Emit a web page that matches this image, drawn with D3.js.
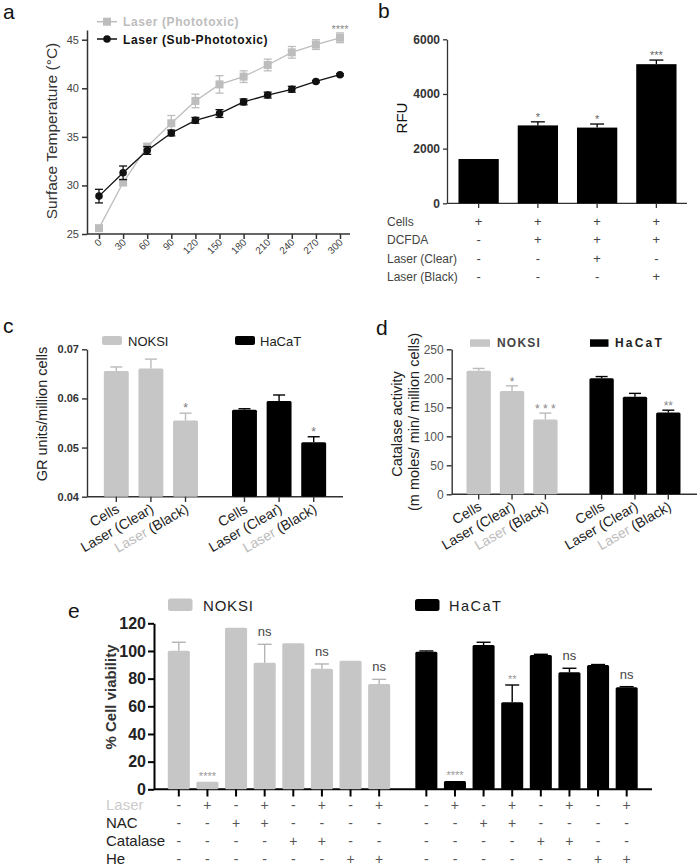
<!DOCTYPE html>
<html><head><meta charset="utf-8">
<script src="https://cdn.jsdelivr.net/npm/d3@7"></script>
<style>body{margin:0;background:#fff} svg{display:block} text{font-family:Arial,"Liberation Sans",sans-serif}</style>
</head><body><svg id="chart" width="700" height="867"></svg>
<script>
// ---------- Panel a data ----------
const timeLabels = ["0","30","60","90","120","150","180","210","240","270","300"];
const photoMean = [25.6,30.3,34.0,36.4,38.7,40.4,41.2,42.4,43.7,44.5,45.2];
const photoErr  = [0.2,0.3,0.3,0.8,0.7,0.9,0.6,0.6,0.6,0.5,0.5];
const subMean   = [28.9,31.3,33.6,35.4,36.7,37.4,38.6,39.3,39.9,40.7,41.4];
const subErr    = [0.7,0.7,0.4,0.3,0.3,0.4,0.3,0.3,0.3,0.1,0.1];
const aTicks = [25,30,35,40,45];
const aSeries = ["Laser (Phototoxic)","Laser (Sub-Phototoxic)"];

// ---------- Panel b data ----------
const rfuVals  = [1620,2850,2770,5090];
const rfuErr   = [0,130,130,150];
const rfuStars = ["","*","*","***"];
const bTicks = [0,2000,4000,6000];
const rfuRows  = ["Cells","DCFDA","Laser (Clear)","Laser (Black)"];
const rfuTable = [["+","+","+","+"],["-","+","+","+"],["-","-","+","-"],["-","-","-","+"]];

// ---------- Panels c & d data ----------
const cellGroups = ["NOKSI","HaCaT"];
const treatments = ["Cells","Laser (Clear)","Laser (Black)"];
const grNoksi = [0.0656,0.0661,0.0555];
const grNoksiErr = [0.0008,0.0019,0.0015];
const grHacat = [0.0577,0.0595,0.0511];
const grHacatErr = [0.0002,0.0012,0.0011];
const grNoksiStars = ["","","*"];
const grHacatStars = ["","","*"];
const cTicks = [0.04,0.05,0.06,0.07];

const catNoksi = [213,178,129];
const catNoksiErr = [4,9,11];
const catHacat = [200,168,141];
const catHacatErr = [3,6,4];
const catNoksiStars = ["","*","* * *"];
const catHacatStars = ["","","**"];
const dTicks = [0,50,100,150,200,250];

// ---------- Panel e data ----------
const eConds = ["1","2","3","4","5","6","7","8"];
const eNoksi = [100.2,5.5,116.8,91.5,105.5,87.2,93.0,76.1];
const eNoksiErr = [6.1,0,0,13.3,0,3.4,0,3.4];
const eHacat = [99.5,6.0,104.3,62.9,97.1,84.6,89.9,73.7];
const eHacatErr = [0.5,0,2.0,12.5,0.5,2.9,0.3,0.5];
const eNoksiStars = ["","****","","ns","","ns","","ns"];
const eHacatStars = ["","****","","**","","ns","","ns"];
const eTicks = [0,20,40,60,80,100,120];
const eRows = ["Laser","NAC","Catalase","He"];
const eTable = [
  ["-","+","-","+","-","+","-","+"],
  ["-","-","+","+","-","-","-","-"],
  ["-","-","-","-","+","+","-","-"],
  ["-","-","-","-","-","-","+","+"]];

const svg = d3.select("#chart");
const GRAY = "#c6c6c6", EGRAY = "#b4b4b4", LGRAY = "#bdbdbd";

function styleAxis(g, font, size, weight, fill, stroke, sw){
  g.attr("font-family",font).attr("font-size",size);
  g.selectAll("text").attr("fill",fill).attr("font-weight",weight);
  g.selectAll("path,line").attr("stroke",stroke).attr("stroke-width",sw);
}
function panelLabel(t,x,y){
  svg.append("text").attr("x",x).attr("y",y).attr("font-size",21).attr("fill","#111").text(t);
}

// =================== PANEL A ===================
panelLabel("a",3,19);
const xA = d3.scalePoint().domain(timeLabels).range([99,340]);
const yA = d3.scaleLinear().domain([25,46]).range([234,30]);
const gA = svg.append("g");
const axAy = gA.append("g").attr("transform","translate(87,0)")
  .call(d3.axisLeft(yA).tickValues(aTicks).tickSize(5).tickSizeOuter(0).tickPadding(3));
styleAxis(axAy,"Arial",11,"normal","#444","#333",1.5);
const axAx = gA.append("g").attr("transform","translate(0,234)")
  .call(d3.axisBottom(xA).tickSize(5).tickSizeOuter(0));
axAx.select(".domain").remove();
styleAxis(axAx,"Arial",10,"normal","#444","#333",1.5);
axAx.selectAll("text").attr("x",0).attr("y",0).attr("dy",0)
  .attr("text-anchor","end").attr("transform","translate(3,9) rotate(-45)");
gA.append("line").attr("x1",87).attr("x2",350).attr("y1",234).attr("y2",234)
  .attr("stroke","#333").attr("stroke-width",1.5);
svg.append("text").attr("transform","translate(57,131) rotate(-90)")
  .attr("text-anchor","middle").attr("font-size",15.5).attr("fill","#333")
  .text("Surface Temperature (°C)");

function drawSeries(means, errs, color, marker){
  const line = d3.line().x((d,i)=>xA(timeLabels[i])).y(d=>yA(d));
  gA.append("path").datum(means).attr("d",line).attr("fill","none")
    .attr("stroke",color).attr("stroke-width",1.3);
  means.forEach((m,i)=>{
    const x = xA(timeLabels[i]);
    const e = errs[i];
    const eg = gA.append("g").attr("stroke",color).attr("stroke-width",1.3);
    eg.append("line").attr("x1",x).attr("x2",x).attr("y1",yA(m-e)).attr("y2",yA(m+e));
    eg.append("line").attr("x1",x-4).attr("x2",x+4).attr("y1",yA(m-e)).attr("y2",yA(m-e));
    eg.append("line").attr("x1",x-4).attr("x2",x+4).attr("y1",yA(m+e)).attr("y2",yA(m+e));
    if(marker==="square"){
      gA.append("rect").attr("x",x-4).attr("y",yA(m)-4).attr("width",8).attr("height",8).attr("fill",color);
    } else {
      gA.append("path").attr("d",d3.symbol().type(d3.symbolCircle).size(45)())
        .attr("transform",`translate(${x},${yA(m)})`).attr("fill",color);
    }
  });
}
drawSeries(photoMean,photoErr,LGRAY,"square");
drawSeries(subMean,subErr,"#111","circle");
gA.append("text").attr("x",xA("300")).attr("y",33).attr("text-anchor","middle")
  .attr("font-size",11).attr("fill","#888").text("****");
// legend
[[LGRAY,"square",21.7],["#111","circle",39]].forEach((d,i)=>{
  gA.append("line").attr("x1",97).attr("x2",117).attr("y1",d[2]).attr("y2",d[2])
    .attr("stroke",d[0]).attr("stroke-width",1.5);
  if(d[1]==="square") gA.append("rect").attr("x",103).attr("y",d[2]-4).attr("width",8).attr("height",8).attr("fill",d[0]);
  else gA.append("path").attr("d",d3.symbol().type(d3.symbolCircle).size(45)()).attr("transform",`translate(107,${d[2]})`).attr("fill",d[0]);
  gA.append("text").attr("x",123).attr("y",d[2]+4.5).attr("font-size",12).attr("font-weight","bold")
    .attr("letter-spacing",0.6).attr("fill",d[0]).text(aSeries[i]);
});

// =================== PANEL B ===================
panelLabel("b",378,18);
const gB = svg.append("g");
const xB = d3.scaleBand().domain(d3.range(4)).range([449,686]).paddingInner(0.32).paddingOuter(0.16);
const yB = d3.scaleLinear().domain([0,6000]).range([203.3,39.3]);
const axBy = gB.append("g").attr("transform","translate(447,0)")
  .call(d3.axisLeft(yB).tickValues(bTicks).tickFormat(d3.format("d")).tickSize(4).tickSizeOuter(0).tickPadding(3));
styleAxis(axBy,"'Liberation Serif',serif",12,"bold","#333","#333",1.3);
gB.append("line").attr("x1",447).attr("x2",687).attr("y1",203.3).attr("y2",203.3).attr("stroke","#333").attr("stroke-width",1.3);
rfuVals.forEach((v,i)=>{
  const x0 = xB(i), bw = xB.bandwidth(), cx = x0+bw/2;
  gB.append("rect").attr("x",x0).attr("y",yB(v)).attr("width",bw).attr("height",yB(0)-yB(v)).attr("fill","#000");
  if(rfuErr[i]>0){
    gB.append("line").attr("x1",cx).attr("x2",cx).attr("y1",yB(v)).attr("y2",yB(v+rfuErr[i])).attr("stroke","#000").attr("stroke-width",1.3);
    gB.append("line").attr("x1",cx-7).attr("x2",cx+7).attr("y1",yB(v+rfuErr[i])).attr("y2",yB(v+rfuErr[i])).attr("stroke","#000").attr("stroke-width",1.3);
  }
  gB.append("line").attr("x1",cx).attr("x2",cx).attr("y1",203.3).attr("y2",208).attr("stroke","#333").attr("stroke-width",1.3);
  if(rfuStars[i]) gB.append("text").attr("x",cx).attr("y",yB(v+rfuErr[i])-1).attr("text-anchor","middle")
    .attr("font-size",11).attr("fill","#666").text(rfuStars[i]);
  rfuTable.forEach((row,r)=>{
    gB.append("text").attr("x",cx).attr("y",226+r*18.3).attr("text-anchor","middle").attr("font-size",13)
      .attr("fill","#444").text(row[i]);
  });
});
rfuRows.forEach((t,r)=>{
  gB.append("text").attr("x",387).attr("y",226+r*18.3).attr("font-size",12).attr("fill","#444").text(t);
});
svg.append("text").attr("transform","translate(407,118) rotate(-90)").attr("text-anchor","middle")
  .attr("font-size",15).attr("fill","#111").text("RFU");

// =================== grouped helper ===================
function groupedBars(g, xOuter, xInner, y, base, sets, capW){
  sets.forEach((s,gi)=>{
    const gx = xOuter(cellGroups[gi]);
    s.vals.forEach((v,i)=>{
      const x0 = gx + xInner(s.cats[i]), bw = xInner.bandwidth(), cx = x0+bw/2;
      g.append("rect").attr("x",x0).attr("y",y(v)).attr("width",bw).attr("height",y(base)-y(v))
        .attr("fill",s.color).attr("rx",1.5);
      const e = s.errs[i];
      if(e>0){
        g.append("line").attr("x1",cx).attr("x2",cx).attr("y1",y(v)).attr("y2",y(v+e)).attr("stroke",s.ecolor).attr("stroke-width",1.4);
        g.append("line").attr("x1",cx-capW/2).attr("x2",cx+capW/2).attr("y1",y(v+e)).attr("y2",y(v+e)).attr("stroke",s.ecolor).attr("stroke-width",1.4);
      }
      const st = s.stars[i];
      if(st){
        const isNs = st==="ns";
        g.append("text").attr("x",cx).attr("y",y(v+e)+s.starOff(st)).attr("text-anchor","middle")
          .attr("font-family", isNs ? "'Liberation Serif',serif" : "Arial")
          .attr("font-size",isNs?13:s.starSize).attr("fill",isNs?"#444":s.starColor).text(st);
      }
    });
  });
}
function rotatedLabels(g, centers, axisY, size){
  centers.forEach(c=>{
    const t = g.append("text").attr("transform",`translate(${c.x+4},${axisY+15}) rotate(-30)`)
      .attr("text-anchor","end").attr("font-size",size).attr("fill","#222");
    if(c.label==="Laser (Black)"){
      t.append("tspan").attr("fill","#bbb").text("Laser ");
      t.append("tspan").text("(Black)");
    } else t.text(c.label);
  });
}

// =================== PANEL C ===================
panelLabel("c",3,333);
const gC = svg.append("g");
const xCo = d3.scaleBand().domain(cellGroups).range([99,331]).paddingInner(0.19);
const xCi = d3.scaleBand().domain(treatments).range([0,xCo.bandwidth()]).paddingInner(0.28).paddingOuter(0.14);
const yC = d3.scaleLinear().domain([0.04,0.07]).range([496.7,349.3]);
const axCy = gC.append("g").attr("transform","translate(87,0)")
  .call(d3.axisLeft(yC).tickValues(cTicks).tickFormat(d3.format(".2f")).tickSize(5).tickSizeOuter(0).tickPadding(3));
styleAxis(axCy,"'Liberation Serif',serif",11,"bold","#333","#333",1.4);
gC.append("line").attr("x1",87).attr("x2",343).attr("y1",496.7).attr("y2",496.7).attr("stroke","#333").attr("stroke-width",1.4);
groupedBars(gC,xCo,xCi,yC,0.04,[
  {vals:grNoksi,errs:grNoksiErr,stars:grNoksiStars,cats:treatments,color:GRAY,ecolor:"#bbb",starColor:"#777",starSize:12,starOff:()=>-1},
  {vals:grHacat,errs:grHacatErr,stars:grHacatStars,cats:treatments,color:"#000",ecolor:"#000",starColor:"#777",starSize:12,starOff:()=>-1}
],12);
const cCenters = [];
cellGroups.forEach(gn=>treatments.forEach(t=>cCenters.push({x:xCo(gn)+xCi(t)+xCi.bandwidth()/2,label:t})));
cCenters.forEach(c=>gC.append("line").attr("x1",c.x).attr("x2",c.x).attr("y1",496.7).attr("y2",502).attr("stroke","#333").attr("stroke-width",1.4));
rotatedLabels(gC,cCenters,496.7,14);
svg.append("text").attr("transform","translate(47,414) rotate(-90)").attr("text-anchor","middle")
  .attr("font-size",14.5).attr("fill","#222").text("GR units/million cells");
// legend c
gC.append("rect").attr("x",102).attr("y",336).attr("width",20).attr("height",9).attr("rx",2).attr("fill",GRAY);
gC.append("text").attr("x",128).attr("y",345.5).attr("font-size",13).attr("fill","#222").text(cellGroups[0]);
gC.append("rect").attr("x",235).attr("y",336).attr("width",20).attr("height",9).attr("rx",2).attr("fill","#000");
gC.append("text").attr("x",260).attr("y",345.5).attr("font-size",13).attr("fill","#222").text(cellGroups[1]);

// =================== PANEL D ===================
panelLabel("d",376,335);
const gD = svg.append("g");
const xDo = d3.scaleBand().domain(cellGroups).range([462,685]).paddingInner(0.186);
const xDi = d3.scaleBand().domain(treatments).range([0,xDo.bandwidth()]).paddingInner(0.27).paddingOuter(0.135);
const yD = d3.scaleLinear().domain([0,250]).range([494.3,349.3]);
const axDy = gD.append("g").attr("transform","translate(451.7,0)")
  .call(d3.axisLeft(yD).tickValues(dTicks).tickSize(5).tickSizeOuter(0).tickPadding(3));
styleAxis(axDy,"Arial",12,"normal","#555","#333",1.4);
gD.append("line").attr("x1",451.7).attr("x2",697).attr("y1",494.3).attr("y2",494.3).attr("stroke","#333").attr("stroke-width",1.4);
groupedBars(gD,xDo,xDi,yD,0,[
  {vals:catNoksi,errs:catNoksiErr,stars:catNoksiStars,cats:treatments,color:GRAY,ecolor:"#bbb",starColor:"#888",starSize:12,starOff:()=>0},
  {vals:catHacat,errs:catHacatErr,stars:catHacatStars,cats:treatments,color:"#000",ecolor:"#000",starColor:"#888",starSize:12,starOff:()=>0}
],12);
const dCenters = [];
cellGroups.forEach(gn=>treatments.forEach(t=>dCenters.push({x:xDo(gn)+xDi(t)+xDi.bandwidth()/2,label:t})));
dCenters.forEach(c=>gD.append("line").attr("x1",c.x).attr("x2",c.x).attr("y1",494.3).attr("y2",499.5).attr("stroke","#333").attr("stroke-width",1.4));
rotatedLabels(gD,dCenters,494.3,14);
svg.append("text").attr("transform","translate(402,424) rotate(-90)").attr("text-anchor","middle")
  .attr("font-size",14.5).attr("fill","#222").text("Catalase activity");
svg.append("text").attr("transform","translate(418.5,422) rotate(-90)").attr("text-anchor","middle")
  .attr("font-size",14.5).attr("fill","#222").text("(m moles/ min/ million cells)");
// legend d
gD.append("rect").attr("x",470).attr("y",339.3).attr("width",20).attr("height",7.5).attr("fill",GRAY);
gD.append("text").attr("x",497).attr("y",347).attr("font-size",12).attr("font-weight","bold").attr("letter-spacing",1.2).attr("fill","#444").text(cellGroups[0]);
gD.append("rect").attr("x",590).attr("y",339.3).attr("width",18.5).attr("height",7.5).attr("fill","#000");
gD.append("text").attr("x",615).attr("y",347).attr("font-size",12).attr("font-weight","bold").attr("letter-spacing",2.2).attr("fill","#222").text(cellGroups[1]);

// =================== PANEL E ===================
panelLabel("e",68,618);
const gE = svg.append("g");
const xEo = d3.scaleBand().domain(cellGroups).range([164.5,641]).paddingInner(0.075);
const xEi = d3.scaleBand().domain(eConds).range([0,xEo.bandwidth()]).paddingInner(0.23).paddingOuter(0.115);
const yE = d3.scaleLinear().domain([0,120]).range([789.3,623.3]);
const axEy = gE.append("g").attr("transform","translate(154,0)")
  .call(d3.axisLeft(yE).tickValues(eTicks).tickSize(6).tickSizeOuter(0).tickPadding(2));
styleAxis(axEy,"'Liberation Serif',serif",16,"bold","#222","#000",2);
gE.append("line").attr("x1",154).attr("x2",652).attr("y1",789.3).attr("y2",789.3).attr("stroke","#000").attr("stroke-width",2);
groupedBars(gE,xEo,xEi,yE,0,[
  {vals:eNoksi,errs:eNoksiErr,stars:eNoksiStars,cats:eConds,color:GRAY,ecolor:EGRAY,starColor:"#999",starSize:11,starOff:s=>s==="ns"?-8:-2},
  {vals:eHacat,errs:eHacatErr,stars:eHacatStars,cats:eConds,color:"#000",ecolor:"#000",starColor:"#999",starSize:11,starOff:s=>s==="ns"?-8:-2}
],14);
const eCenters = [];
cellGroups.forEach(gn=>eConds.forEach(c=>eCenters.push(xEo(gn)+xEi(c)+xEi.bandwidth()/2)));
eCenters.forEach((x,k)=>{
  gE.append("line").attr("x1",x).attr("x2",x).attr("y1",789.3).attr("y2",796.5).attr("stroke","#000").attr("stroke-width",2);
  eTable.forEach((row,r)=>{
    gE.append("text").attr("x",x).attr("y",810+r*18).attr("text-anchor","middle").attr("font-size",14)
      .attr("fill","#555").text(row[k%8]);
  });
});
eRows.forEach((t,r)=>{
  gE.append("text").attr("x",106).attr("y",810+r*18).attr("font-size",15)
    .attr("fill", r===0 ? "#ccc" : "#222").text(t);
});
svg.append("text").attr("transform","translate(116,697) rotate(-90)").attr("text-anchor","middle")
  .attr("font-size",15).attr("font-weight","bold").attr("fill","#333").text("% Cell viability");
// legend e
gE.append("rect").attr("x",168).attr("y",598.5).attr("width",24.5).attr("height",12.5).attr("rx",2.5).attr("fill",GRAY);
gE.append("text").attr("x",203).attr("y",611).attr("font-size",15).attr("letter-spacing",0.8).attr("fill","#222").text(cellGroups[0]);
gE.append("rect").attr("x",415).attr("y",599).attr("width",24.5).attr("height",12).attr("rx",2.5).attr("fill","#000");
gE.append("text").attr("x",449).attr("y",611).attr("font-size",14.5).attr("letter-spacing",1.5).attr("fill","#222").text(cellGroups[1]);
</script></body></html>
